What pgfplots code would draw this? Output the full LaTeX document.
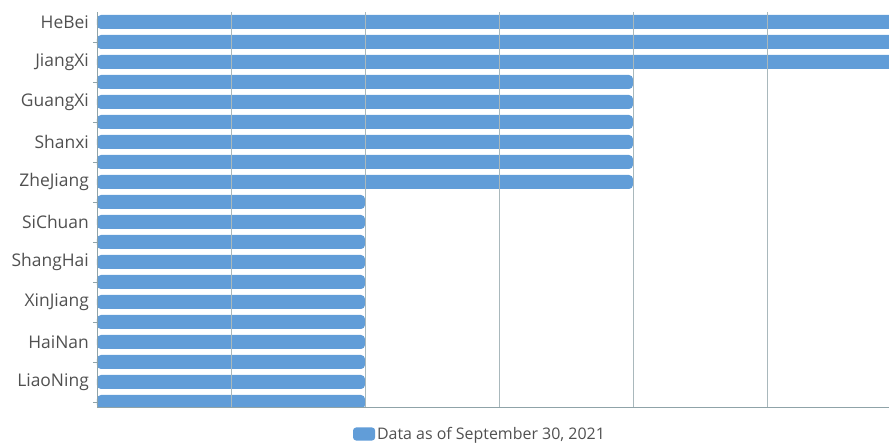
\documentclass[border=0pt]{standalone}
\usepackage{pgfplots}
\pgfplotsset{compat=1.18}
\usepackage{fontspec}
\setmainfont{Open Sans}
\definecolor{barblue}{HTML}{619DD8}
\definecolor{gridc}{HTML}{A9B8BC}
\definecolor{axisc}{HTML}{8FA3A8}
\definecolor{labc}{HTML}{505050}
\begin{document}
\begin{tikzpicture}
\path[use as bounding box] (-97bp,-36bp) rectangle (792bp,407bp);
\begin{axis}[
  scale only axis,
  width=804bp, height=395bp,
  at={(0,0)}, anchor=south west,
  xmin=0, xmax=6,
  ymin=0.75, ymax=20.5,
  xbar, bar width=14bp,
  axis x line*=bottom, axis y line*=left,
  axis line style={axisc, line width=0.9pt},
  xtick={1,2,3,4,5}, xticklabels={},
  xmajorgrids, grid style={gridc, line width=0.8pt},
  ytick={20,18,...,2},
  yticklabels={HeBei,JiangXi,GuangXi,Shanxi,ZheJiang,SiChuan,ShangHai,XinJiang,HaiNan,LiaoNing},
  minor ytick={19,17,...,1},
  tick align=outside,
  major tick length=0pt, minor tick length=4bp,
  minor tick style={axisc, line width=0.9pt},
  yticklabel style={font=\fontsize{17.5}{19}\selectfont, text=labc, inner sep=0pt, xshift=-8bp},
  legend style={at={(480bp-97bp,-27bp)}, anchor=center, draw=none, fill=none,
    font=\fontsize{16}{18}\selectfont, text=labc, inner sep=0pt},
  legend image code/.code={\fill[barblue, rounded corners=3bp] (-6bp,-6.5bp) rectangle (16bp,6.5bp);},
  axis on top,
]
\addplot[fill=barblue, draw=none, rounded corners=4bp] coordinates {
  (6.5,20) (6.5,19) (6.5,18)
  (4,17) (4,16) (4,15) (4,14) (4,13) (4,12)
  (2,11) (2,10) (2,9) (2,8) (2,7) (2,6) (2,5) (2,4) (2,3) (2,2) (2,1)
};
\addlegendentry{Data as of September 30, 2021}
\end{axis}
\end{tikzpicture}
\end{document}
